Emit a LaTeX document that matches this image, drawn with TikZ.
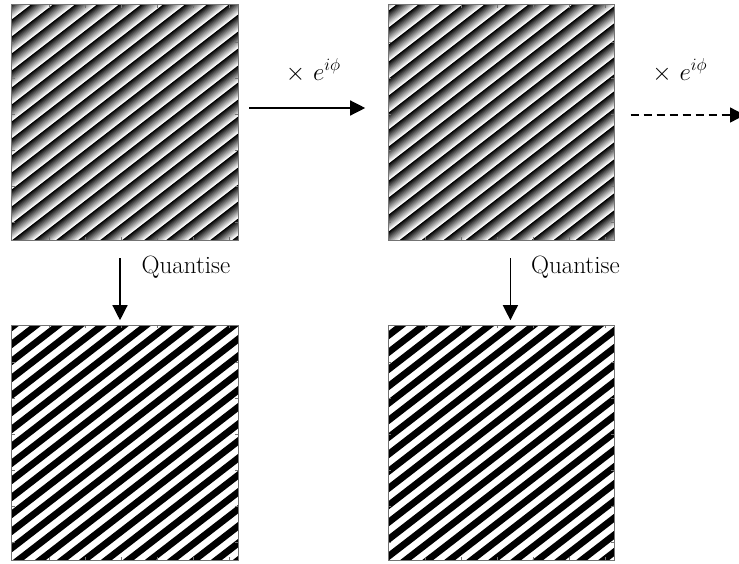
\documentclass[tikz,border=0pt]{standalone}
\usepackage{xcolor}
\usepackage{tikz}
\usetikzlibrary{positioning,arrows.meta}
\definecolor{frame}{gray}{0.45}

% phase ramp (sawtooth, black -> white) clipped to a panel node
\newcommand{\rampfill}[2]{%
  \begin{scope}
    \clip (#1.north west) rectangle (#1.south east);
    \foreach \n in {-1,...,26}{%
      \foreach \k in {0,...,11}{%
        \pgfmathsetmacro{\ca}{\n+\k/12+#2}%
        \pgfmathsetmacro{\cb}{\n+1+#2}%
        \pgfmathsetmacro{\lvl}{100-\k*100/11}%
        \fill[black!\lvl, shift={(#1.north west)}]
          ({22*(\ca+5/17)},-5) -- ({22*(\cb+5/17)},-5)
          -- ({22*(\cb-245/17)},245) -- ({22*(\ca-245/17)},245) -- cycle;
      }}
  \end{scope}}
% binary (quantised) stripes
\newcommand{\binfill}[2]{%
  \begin{scope}
    \clip (#1.north west) rectangle (#1.south east);
    \fill[white] (#1.north west) rectangle (#1.south east);
    \foreach \n in {-1,...,26}{%
      \pgfmathsetmacro{\ca}{\n+#2}%
      \pgfmathsetmacro{\cb}{\n+0.5+#2}%
      \fill[black, shift={(#1.north west)}]
        ({22*(\ca+5/17)},-5) -- ({22*(\cb+5/17)},-5)
        -- ({22*(\cb-245/17)},245) -- ({22*(\ca-245/17)},245) -- cycle;
    }
  \end{scope}}
% axes frame with small ticks
\newcommand{\panelframe}[1]{%
  \draw[frame, line width=0.8pt] (#1.north west) rectangle (#1.south east);
  \begin{scope}[shift={(#1.north west)}]
    \foreach \t in {37,73,109,145,181,217}
      \draw[frame, line width=0.6pt] (\t,0) -- (\t,3) (\t,235) -- (\t,232)
        (0,\t) -- (3,\t) (226,\t) -- (223,\t);
  \end{scope}}

\begin{document}
\begin{tikzpicture}[x=1pt, y=-1pt,
  panel/.style={minimum width=226pt, minimum height=235pt, inner sep=0pt},
  arr/.style={-{Triangle[length=15pt, width=15pt]}, line width=1.3pt},
  lbl/.style={font=\fontsize{25}{30}\selectfont, inner sep=0pt},
  mlbl/.style={font=\fontsize{26}{31}\selectfont, inner sep=0pt}]
\useasboundingbox (0,0) rectangle (739,563);
\node[panel] (ramp1) at (125,122.5) {};
\node[panel, right=150pt of ramp1] (ramp2) {};
\node[panel, below=85pt of ramp1] (bin1) {};
\node[panel, below=85pt of ramp2] (bin2) {};
\rampfill{ramp1}{-0.14} \panelframe{ramp1}
\rampfill{ramp2}{0.36} \panelframe{ramp2}
\binfill{bin1}{-0.14} \panelframe{bin1}
\binfill{bin2}{0.36} \panelframe{bin2}
\coordinate (more) at (745,115);
\draw[arr, shorten <=11pt, shorten >=23pt] ([yshift=14.5pt]ramp1.east) -- ([yshift=14.5pt]ramp2.west)
  node[midway, anchor=base, yshift=28pt, mlbl] {$\times\ e^{i\phi}$};
\draw[arr, dash pattern=on 8pt off 5pt, shorten <=16pt] ([yshift=7.5pt]ramp2.east) -- (more)
  node[midway, anchor=base, yshift=35pt, mlbl] {$\times\ e^{i\phi}$};
\draw[arr, shorten <=18pt, shorten >=5pt] ([xshift=-5pt]ramp1.south) -- ([xshift=-5pt]bin1.north)
  node[pos=0.39, anchor=base west, xshift=21pt, lbl] {Quantise};
\draw[arr, shorten <=18pt, shorten >=5pt] ([xshift=9pt]ramp2.south) -- ([xshift=9pt]bin2.north)
  node[pos=0.39, anchor=base west, xshift=20pt, lbl] {Quantise};
\end{tikzpicture}
\end{document}
